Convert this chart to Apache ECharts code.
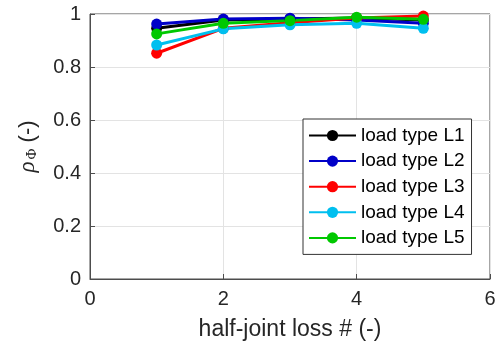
<!DOCTYPE html>
<html>
<head>
<meta charset="utf-8">
<script src="https://cdn.jsdelivr.net/npm/echarts@6/dist/echarts.min.js"></script>
<style>
  html, body { margin: 0; padding: 0; background: #fff; }
  #chart { width: 499px; height: 346px; }
</style>
</head>
<body>
<div id="chart"></div>
<script>
// half-joint loss number
var xs = [1, 2, 3, 4, 5]

var names = ['load type L1', 'load type L2', 'load type L3', 'load type L4', 'load type L5']
var colors = ['#000000', '#0000c8', '#ff0000', '#00bfef', '#00c800']

var L1 = [0.946, 0.977, 0.981, 0.985, 0.977]
var L2 = [0.962, 0.981, 0.984, 0.977, 0.965]
var L3 = [0.852, 0.946, 0.967, 0.985, 0.992]
var L4 = [0.883, 0.944, 0.959, 0.965, 0.946]
var L5 = [0.925, 0.965, 0.975, 0.988, 0.980]

var allData = [L1, L2, L3, L4, L5]

var fontName = '"Liberation Sans", Arial, Helvetica, sans-serif'
var serifName = '"Liberation Serif", "Times New Roman", serif'
var textCol = '#262626'

function make_series() {
    var out = []
    for (var i = 0; i < names.length; i++) {
        var pts = []
        for (var j = 0; j < xs.length; j++) {
            pts.push([xs[j], allData[i][j]])
        }
        out.push({
            name: names[i],
            type: 'line',
            data: pts,
            color: colors[i],
            symbol: 'circle',
            symbolSize: 11,
            lineStyle: { width: 3 },
            animation: false,
        })
    }
    return out
}

var myChart = echarts.init(document.getElementById('chart'))
var option = {
    backgroundColor: '#fff',
    grid: {
        left: 90, right: 9, top: 14, bottom: 66,
        show: true,
        borderColor: '#4d4d4d',
        borderWidth: 1,
    },
    legend: {
        data: names,
        orient: 'vertical',
        left: 303,
        top: 119,
        itemWidth: 47,
        itemHeight: 14,
        itemGap: 6.6,
        padding: [7, 7, 7, 5],
        backgroundColor: '#fff',
        borderColor: '#333',
        borderWidth: 1,
        borderRadius: 0,
        textStyle: { fontSize: 19, fontFamily: fontName, color: '#000', lineHeight: 19 },
    },
    xAxis: {
        type: 'value',
        min: 0, max: 6, interval: 2,
        name: 'half-joint loss # (-)',
        nameLocation: 'middle',
        nameGap: 39,
        nameTextStyle: { fontSize: 23, fontFamily: fontName, color: textCol },
        axisLine: { show: true, onZero: false, lineStyle: { color: '#4d4d4d', width: 1 } },
        axisTick: { show: true, inside: true, length: 5, lineStyle: { color: '#4d4d4d' } },
        axisLabel: { fontSize: 20, fontFamily: fontName, color: textCol, margin: 10 },
        splitLine: { show: true, lineStyle: { color: '#e3e3e3', width: 1 } },
    },
    yAxis: {
        type: 'value',
        min: 0, max: 1, interval: 0.2,
        name: '{r|ρ}{s|Φ}{n| (-)}',
        nameLocation: 'middle',
        nameGap: 50,
        nameTextStyle: {
            fontFamily: fontName, color: textCol,
            rich: {
                r: { fontSize: 23, fontStyle: 'italic', fontFamily: serifName, color: textCol },
                s: { fontSize: 15, fontFamily: serifName, color: textCol, padding: [9, 0, 0, 2] },
                n: { fontSize: 22, fontFamily: fontName, color: textCol },
            },
        },
        axisLine: { show: true, lineStyle: { color: '#4d4d4d', width: 1 } },
        axisTick: { show: true, inside: true, length: 5, lineStyle: { color: '#4d4d4d' } },
        axisLabel: { fontSize: 20, fontFamily: fontName, color: textCol, margin: 9 },
        splitLine: { show: true, lineStyle: { color: '#e3e3e3', width: 1 } },
    },
    series: make_series(),
}
myChart.setOption(option)
</script>
</body>
</html>
